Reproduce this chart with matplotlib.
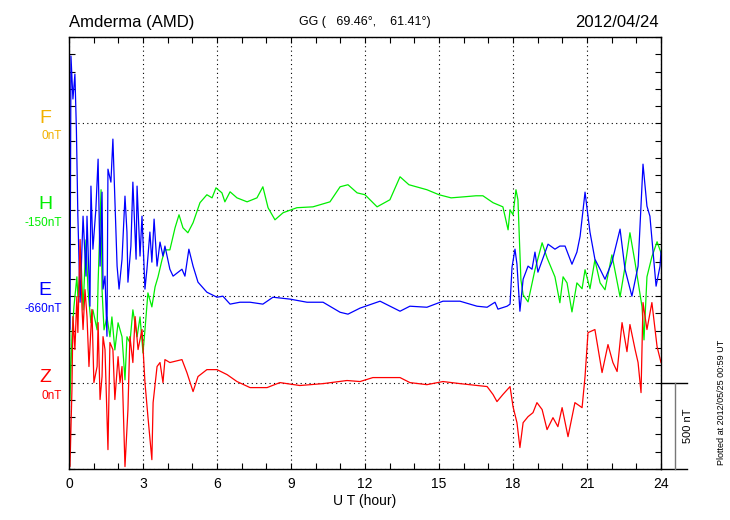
import numpy as np
import matplotlib
matplotlib.use('Agg')
import matplotlib.pyplot as plt

# Amderma magnetometer traces (hour, deviation in nT from trace baseline)
h_time = [0.0, 0.04, 0.12, 0.20, 0.32, 0.36, 0.49, 0.57, 0.69, 0.77, 0.89, 0.97, 1.14, 1.18,
          1.30, 1.34, 1.42, 1.54, 1.66, 1.74, 1.86, 1.99, 2.15, 2.27, 2.35, 2.47, 2.59, 2.76,
          2.88, 3.00, 3.08, 3.20, 3.36, 3.49, 3.61, 3.77, 3.89, 4.09, 4.30, 4.46, 4.62, 4.82,
          5.03, 5.31, 5.59, 5.80, 5.96, 6.20, 6.32, 6.53, 6.81, 7.22, 7.62, 7.86, 8.07, 8.35,
          8.68, 9.24, 9.89, 10.58, 10.99, 11.31, 11.68, 12.00, 12.49, 13.01, 13.42, 13.78,
          14.51, 15.00, 15.49, 16.01, 16.50, 16.78, 17.19, 17.59, 17.80, 17.88, 18.00, 18.12,
          18.20, 18.32, 18.41, 18.61, 18.89, 19.18, 19.38, 19.70, 19.90, 20.03, 20.19, 20.39,
          20.59, 20.80, 20.92, 21.12, 21.32, 21.53, 21.73, 22.01, 22.34, 22.54, 22.74, 22.95,
          23.23, 23.31, 23.43, 23.63, 23.84, 24.00]
h_dev = [-133, -1100, -735, -562, -388, -504, -290, -579, -174, -463, -654, -579, -695, -423,
         116, -463, -695, -620, -735, -620, -811, -654, -735, -984, -735, -770, -579, -735,
         -620, -828, -695, -481, -562, -446, -388, -290, -232, -232, -104, -29, -104, -133,
         -75, 41, 87, 69, 127, 98, 46, 104, 69, 46, 69, 133, 12, -58,
         -17, 12, 17, 46, 133, 145, 98, 87, 17, 58, 191, 145,
         116, 87, 69, 75, 81, 81, 41, 17, -116, 0, -29, 116,
         58, -405, -492, -533, -347, -191, -278, -388, -538, -388, -423, -591,
         -423, -457, -347, -457, -290, -423, -463, -261, -504, -330, -133, -307,
         -562, -753, -388, -272, -185, -249]

e_time = [0.04, 0.08, 0.16, 0.24, 0.30, 0.36, 0.45, 0.57, 0.69, 0.73, 0.85, 0.89, 0.97, 1.09,
          1.18, 1.26, 1.34, 1.38, 1.46, 1.54, 1.58, 1.70, 1.78, 1.86, 1.95, 2.03, 2.15, 2.27,
          2.35, 2.39, 2.51, 2.59, 2.72, 2.76, 2.88, 2.96, 3.08, 3.16, 3.28, 3.36, 3.45, 3.57,
          3.69, 3.81, 3.89, 4.09, 4.22, 4.58, 4.70, 4.86, 5.03, 5.23, 5.59, 6.00, 6.24, 6.53,
          6.93, 7.34, 7.86, 8.27, 8.96, 9.65, 10.30, 10.99, 11.31, 11.80, 12.61, 13.42, 13.82,
          14.51, 15.16, 15.85, 16.54, 16.95, 17.27, 17.39, 17.76, 17.88, 17.96, 18.08, 18.16,
          18.28, 18.41, 18.61, 18.77, 18.89, 19.01, 19.42, 19.70, 19.90, 20.11, 20.39, 20.59,
          20.72, 20.92, 21.12, 21.32, 21.53, 21.73, 22.01, 22.34, 22.54, 22.82, 23.07, 23.27,
          23.43, 23.55, 23.80, 23.96, 24.00]
e_dev = [-191, 1390, 1141, 1285, 967, 463, -35, 463, 116, 463, -58, 637, 272, 504,
         793, 174, 602, 41, 116, -232, 735, 660, 909, 562, 174, 41, 214, 579,
         371, 81, 290, 660, 214, 637, 232, 463, 41, 156, 371, 197, 446, 174,
         313, 232, 290, 156, 116, 156, 116, 272, 174, 81, 23, -6, 0, -46,
         -35, -35, -46, -6, -17, -35, -35, -93, -104, -69, -29, -87, -58,
         -64, -29, -29, -58, -64, -35, -75, -58, -46, 168, 272, 185,
         -87, 98, 174, 156, 255, 139, 301, 272, 290, 290, 185, 255,
         347, 602, 371, 214, 156, 98, 197, 388, 156, 0, 174, 764,
         521, 463, 58, 174, 260]

z_time = [0.00, 0.04, 0.12, 0.16, 0.24, 0.32, 0.36, 0.45, 0.53, 0.57, 0.65, 0.73, 0.81, 0.93,
          1.01, 1.14, 1.18, 1.26, 1.34, 1.38, 1.46, 1.58, 1.66, 1.78, 1.86, 1.99, 2.07, 2.15,
          2.27, 2.39, 2.47, 2.59, 2.68, 2.80, 2.96, 3.08, 3.20, 3.36, 3.41, 3.57, 3.69, 3.81,
          3.89, 4.09, 4.58, 4.78, 5.03, 5.23, 5.59, 6.00, 6.41, 6.81, 7.34, 8.03, 8.55,
          9.36, 10.30, 11.27, 11.80, 12.32, 13.42, 13.82, 14.51, 15.16, 15.85, 16.95, 17.19,
          17.35, 17.59, 17.88, 18.00, 18.16, 18.28, 18.41, 18.61, 18.81, 18.97, 19.18, 19.38,
          19.62, 19.82, 19.99, 20.23, 20.51, 20.80, 20.92, 21.04, 21.32, 21.61, 21.85, 22.05,
          22.22, 22.42, 22.62, 22.74, 22.95, 23.07, 23.19, 23.27, 23.43, 23.63, 23.84, 24.00]
z_dev = [75, -486, -41, 382, 191, 498, 290, 828, 423, 307, 538, 382, 93, 423,
         0, 93, 347, -98, 35, 266, 191, -388, 232, 191, -98, 150, 0, 93,
         -486, -156, 266, 116, 382, 191, 307, 0, -197, -446, -116, 93, 116, 0,
         133, 116, 133, 58, -52, 35, 75, 75, 46, 6, -29, -29, 0,
         -17, -6, 12, 6, 29, 29, 0, -12, 6, -6, -23, -69,
         -110, -69, -23, -139, -232, -376, -232, -197, -174, -116, -156, -272,
         -203, -255, -145, -313, -116, -145, 35, 289, 307, 58, 220, 116,
         64, 347, 179, 336, 191, 116, -58, 463, 307, 463, 208, 116]

components = ['F', 'H', 'E', 'Z']
baselines = [2000, 1500, 1000, 500]
base_labels = ['0nT', '-150nT', '-660nT', '0nT']
colors = ['#f2b100', '#00ee00', '#0000ff', '#ff0000']

plt.rcParams.update({'font.family': ['Liberation Sans', 'DejaVu Sans'], 'font.size': 10})

fig = plt.figure(figsize=(7.3, 5.2), dpi=100)
ax = fig.add_axes([0.0945, 0.0981, 0.8110, 0.8308])

# traces
ax.plot(h_time, np.array(h_dev) + baselines[1], color=colors[1], lw=0.9)
ax.plot(e_time, np.array(e_dev) + baselines[2], color=colors[2], lw=0.9)
ax.plot(z_time, np.array(z_dev) + baselines[3], color=colors[3], lw=0.9)

ax.set_xlim(0, 24)
ax.set_ylim(0, 2500)
ax.set_xticks(np.arange(0, 25, 3))
ax.set_xticks(np.arange(0, 25, 1), minor=True)
ax.set_yticks(np.arange(0, 2501, 500))
ax.set_yticks(np.arange(0, 2501, 100), minor=True)
ax.set_yticklabels([])
ax.tick_params(which='both', direction='in', top=True, right=True, length=4, width=0.8)
ax.tick_params(axis='x', pad=6)
ax.grid(which='major', linestyle=(0, (1, 3)), color='black', lw=0.8)
for s in ax.spines.values():
    s.set_linewidth(1.0)
ax.set_xlabel('U T (hour)', labelpad=2)

# component labels on the left
for comp, base, lab, c in zip(components, baselines, base_labels, colors):
    ax.text(-0.97, base + 30, comp, color=c, fontsize=14, ha='center', va='center', clip_on=False)
    ax.text(-0.28, base - 75, lab, color=c, fontsize=8.5, ha='right', va='center', clip_on=False)

# scale bar on the right
ax.plot([24, 25.05], [0, 0], color='black', lw=1.0, clip_on=False)
ax.plot([24, 25.05], [500, 500], color='black', lw=1.0, clip_on=False)
ax.plot([24.57, 24.57], [0, 500], color='#777777', lw=1.0, clip_on=False)
ax.text(25.1, 250, '500 nT', rotation=90, fontsize=8, ha='center', va='center', clip_on=False)

fig.text(0.0945, 0.957, 'Amderma (AMD)', fontsize=12, ha='left', va='center')
fig.text(0.50, 0.957, 'GG (   69.46°,    61.41°)', fontsize=9, ha='center', va='center')
fig.text(0.903, 0.957, '2012/04/24', fontsize=12, ha='right', va='center')
fig.text(0.989, 0.227, 'Plotted at 2012/05/25 00:59 UT', fontsize=6.5, rotation=90,
         ha='center', va='center')

fig.savefig('out.png', dpi=100)
